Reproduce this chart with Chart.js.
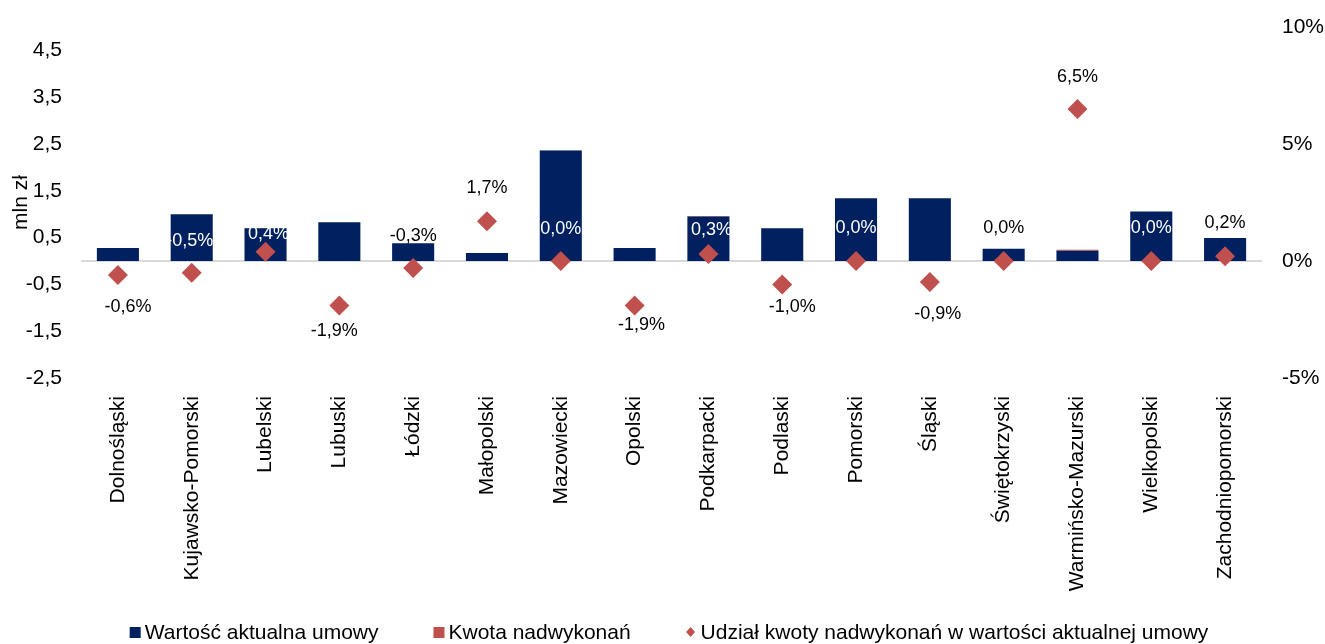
<!DOCTYPE html>
<html lang="pl">
<head>
<meta charset="utf-8">
<script src="https://cdn.jsdelivr.net/npm/chart.js@4.4.1/dist/chart.umd.min.js"></script>
<style>
  html, body { margin: 0; padding: 0; background: #fff; }
  #wrap { width: 1325px; height: 644px; position: relative; }
</style>
</head>
<body>
<div id="wrap"><canvas id="wykres"></canvas></div>
<script>
// dane
const wojewodztwa = ["Dolnośląski", "Kujawsko-Pomorski", "Lubelski", "Lubuski", "Łódzki", "Małopolski",
    "Mazowiecki", "Opolski", "Podkarpacki", "Podlaski", "Pomorski", "Śląski", "Świętokrzyski",
    "Warmińsko-Mazurski", "Wielkopolski", "Zachodniopomorski"];
const wartoscUmowy = [0.28, 1.00, 0.70, 0.83, 0.38, 0.17, 2.36, 0.28, 0.95, 0.70, 1.34, 1.34, 0.26, 0.22, 1.06, 0.49];
const kwotaNadwykonan = [0, 0, 0.003, 0, 0, 0.003, 0.008, 0, 0.012, 0, 0, 0, 0, 0.018, 0, 0.002];
const udzialProc = [-0.6, -0.5, 0.4, -1.9, -0.3, 1.7, 0.0, -1.9, 0.3, -1.0, 0.0, -0.9, 0.0, 6.5, 0.0, 0.2];
const ticksLewa = [-2.5, -1.5, -0.5, 0.5, 1.5, 2.5, 3.5, 4.5];
const ticksPrawa = [-5, 0, 5, 10];

const GRANAT = "#002060";
const CZERWONY = "#C0504D";
const FONT = "Arial, 'Liberation Sans', sans-serif";

// etykiety przy rombach (przesuniecia wzgledem punktu)
const etykietyPlugin = {
    id: "etykiety",
    afterDatasetsDraw(chart, args, opts) {
        const meta = chart.getDatasetMeta(2);
        const ctx = chart.ctx;
        ctx.save();
        ctx.font = "18px " + FONT;
        ctx.textAlign = "center";
        ctx.textBaseline = "middle";
        meta.data.forEach((pt, i) => {
            const txt = udzialProc[i].toFixed(1).replace(".", ",") + "%";
            ctx.fillStyle = opts.biale.includes(i) ? "#ffffff" : "#000000";
            ctx.fillText(txt, pt.x + opts.dx[i], pt.y + opts.dy[i]);
        });
        ctx.restore();
    }
};

// legenda rysowana na dole
const legendaPlugin = {
    id: "legenda",
    afterDraw(chart) {
        const ctx = chart.ctx;
        ctx.save();
        ctx.font = "21px " + FONT;
        ctx.textBaseline = "middle";
        const items = chart.data.datasets.map(ds => ({ label: ds.label, color: ds.backgroundColor, romb: ds.type === "line" }));
        const gap = 55;
        const widths = items.map(it => 15 + ctx.measureText(it.label).width);
        const total = widths.reduce((a, b) => a + b, 0) + gap * (items.length - 1);
        let x = 669 - total / 2;
        const y = 632;
        items.forEach((it, i) => {
            ctx.fillStyle = it.color;
            if (it.romb) {
                ctx.beginPath();
                ctx.moveTo(x + 5, y - 5);
                ctx.lineTo(x + 9.5, y);
                ctx.lineTo(x + 5, y + 5);
                ctx.lineTo(x + 0.5, y);
                ctx.closePath();
                ctx.fill();
            } else {
                ctx.fillRect(x, y - 5, 11, 11);
            }
            ctx.fillStyle = "#000";
            ctx.fillText(it.label, x + 15, y + 1);
            x += widths[i] + gap;
        });
        ctx.restore();
    }
};

new Chart(document.getElementById("wykres"), {
    type: "bar",
    data: {
        labels: wojewodztwa,
        datasets: [
            {
                label: "Wartość aktualna umowy",
                data: wartoscUmowy,
                backgroundColor: GRANAT,
                yAxisID: "y",
                stack: "a",
                order: 2
            },
            {
                label: "Kwota nadwykonań",
                data: kwotaNadwykonan,
                backgroundColor: CZERWONY,
                yAxisID: "y",
                stack: "a",
                order: 2
            },
            {
                type: "line",
                label: "Udział kwoty nadwykonań w wartości aktualnej umowy",
                data: udzialProc,
                yAxisID: "y1",
                showLine: false,
                pointStyle: "rectRot",
                pointRadius: 10,
                pointHoverRadius: 10,
                pointBorderWidth: 0,
                backgroundColor: CZERWONY,
                borderColor: CZERWONY,
                order: 1
            }
        ]
    },
    options: {
        responsive: true,
        maintainAspectRatio: false,
        animation: false,
        datasets: {
            bar: { categoryPercentage: 1.0, barPercentage: 0.57 }
        },
        layout: { padding: { top: 27, left: 0, right: 0, bottom: 0 } },
        plugins: {
            legend: { display: false },
            tooltip: { enabled: false },
            etykiety: {
                dx: [10, -2, 3, -5, 0, 0, 0, 7, 3, 10, 0, 8, 0, 0, 0, 0],
                dy: [32, -32, -18, 26, -32, -33, -32, 20, -24, 23, -33, 32, -33, -32, -33, -33],
                biale: [1, 2, 6, 8, 10, 14]
            }
        },
        scales: {
            x: {
                stacked: true,
                grid: { display: false },
                border: { display: false },
                ticks: {
                    color: "#000",
                    font: { size: 21, family: FONT },
                    minRotation: 90,
                    maxRotation: 90,
                    autoSkip: false,
                    padding: 10
                },
                afterFit(scale) { scale.height = 266; }
            },
            y: {
                position: "left",
                stacked: true,
                min: -2.5,
                max: 5.0,
                grid: { display: false, drawTicks: true, tickLength: 19, tickColor: "rgba(0,0,0,0)" },
                border: { display: false },
                title: {
                    display: true,
                    text: "mln zł",
                    color: "#000",
                    font: { size: 21, family: FONT },
                    padding: { top: 9, bottom: 0 }
                },
                ticks: {
                    color: "#000",
                    font: { size: 21, family: FONT },
                    padding: 0,
                    callback: v => v.toFixed(1).replace(".", ",")
                },
                afterBuildTicks(scale) { scale.ticks = ticksLewa.map(v => ({ value: v })); },
                afterFit(scale) { scale.width = 81; }
            },
            y1: {
                position: "right",
                min: -5,
                max: 10,
                grid: {
                    drawOnChartArea: true,
                    drawTicks: true,
                    tickLength: 20,
                    tickColor: "rgba(0,0,0,0)",
                    lineWidth: 2,
                    color: ctx => (ctx.tick && ctx.tick.value === 0) ? "#D9D9D9" : "rgba(0,0,0,0)"
                },
                border: { display: false },
                ticks: {
                    color: "#000",
                    font: { size: 21, family: FONT },
                    padding: 0,
                    callback: v => v + "%"
                },
                afterBuildTicks(scale) { scale.ticks = ticksPrawa.map(v => ({ value: v })); },
                afterFit(scale) { scale.width = 63; }
            }
        }
    },
    plugins: [etykietyPlugin, legendaPlugin]
});
</script>
</body>
</html>
